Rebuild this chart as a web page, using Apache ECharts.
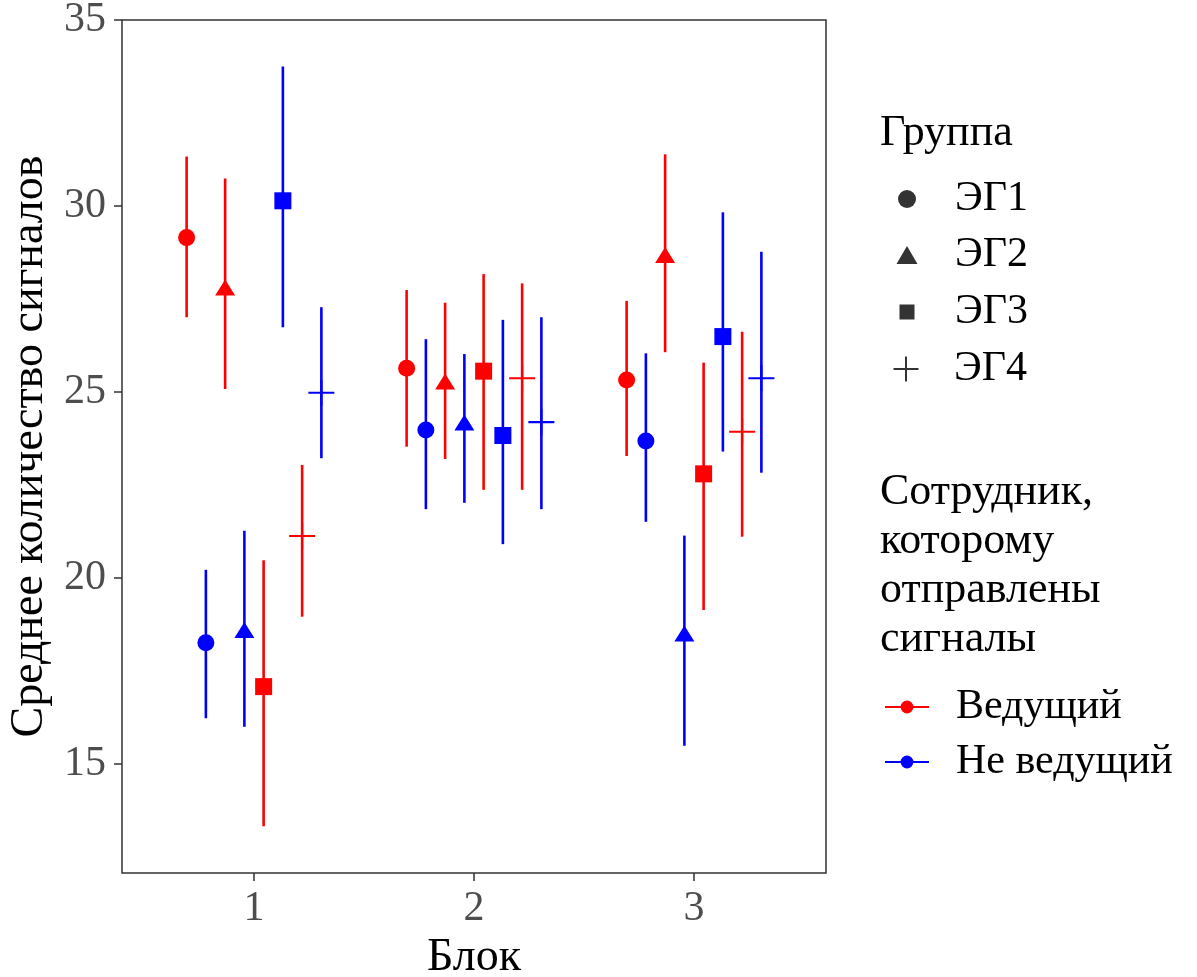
<!DOCTYPE html>
<html>
<head>
<meta charset="utf-8">
<script src="https://cdn.jsdelivr.net/npm/echarts@6/dist/echarts.min.js"></script>
<style>
html, body { margin: 0; padding: 0; background: #fff; }
#chart { width: 1197px; height: 977px; }
</style>
</head>
<body>
<div id="chart"></div>
<script>
var blocks = [1, 2, 3];
var groups = ['ЭГ1', 'ЭГ2', 'ЭГ3', 'ЭГ4'];
var employees = ['Ведущий', 'Не ведущий'];
var xTicks = [1, 2, 3];
var yTicks = [15, 20, 25, 30, 35];

// rows = groups, columns = blocks
var leadMean = [[29.15, 25.64, 25.32], [27.81, 25.28, 28.68], [17.08, 25.56, 22.80], [21.13, 25.37, 23.93]];
var leadLow  = [[27.01, 23.53, 23.28], [25.08, 23.20, 26.07], [13.33, 22.37, 19.14], [18.96, 22.37, 21.11]];
var leadHigh = [[31.33, 27.74, 27.45], [30.74, 27.40, 31.39], [20.48, 28.17, 25.79], [23.04, 27.92, 26.62]];

var otherMean = [[18.26, 23.98, 23.68], [18.60, 24.18, 18.51], [30.14, 23.83, 26.49], [24.98, 24.19, 25.37]];
var otherLow  = [[16.23, 21.85, 21.51], [16.00, 22.02, 15.49], [26.74, 20.91, 23.40], [23.22, 21.85, 22.83]];
var otherHigh = [[20.22, 26.42, 26.04], [21.27, 26.02, 21.14], [33.75, 26.94, 29.83], [27.28, 27.01, 28.77]];

var font = '"Liberation Serif", "Times New Roman", serif';
var colors = ['#FF0000', '#0000FF'];
var plusPath = 'path://M0,9.2H20V10.8H0Z M9.2,0H10.8V20H9.2Z';
var shapes = ['circle', 'triangle', 'rect', plusPath];
var shapeSizes = [17, [20, 16], 17, 26];
var dodge = 0.0875; // 0.7 / 8

var means = [leadMean, otherMean];
var lows = [leadLow, otherLow];
var highs = [leadHigh, otherHigh];

var series = [];
groups.forEach(function (g, gi) {
    employees.forEach(function (e, ei) {
        var offset = (gi * 2 + ei - 3.5) * dodge;
        var barData = [], pointData = [];
        blocks.forEach(function (b, bi) {
            barData.push([b + offset, lows[ei][gi][bi], highs[ei][gi][bi]]);
            pointData.push([b + offset, means[ei][gi][bi]]);
        });
        series.push({
            type: 'custom',
            silent: true,
            data: barData,
            encode: { x: 0, y: [1, 2] },
            renderItem: function (params, api) {
                var p1 = api.coord([api.value(0), api.value(1)]);
                var p2 = api.coord([api.value(0), api.value(2)]);
                return {
                    type: 'line',
                    shape: { x1: p1[0], y1: p1[1], x2: p2[0], y2: p2[1] },
                    style: { stroke: colors[ei], lineWidth: 2.6 }
                };
            }
        });
        series.push({
            type: 'scatter',
            silent: true,
            data: pointData,
            symbol: shapes[gi],
            symbolSize: shapeSizes[gi],
            itemStyle: { color: colors[ei], opacity: 1 },
            z: 3
        });
    });
});

// legend-only series
groups.forEach(function (g, gi) {
    series.push({ name: g, type: 'scatter', data: [], symbol: shapes[gi], symbolKeepAspect: false,
        itemStyle: { color: '#000' } });
});
employees.forEach(function (e, ei) {
    series.push({ name: e, type: 'line', data: [], symbol: 'circle', symbolSize: 12,
        itemStyle: { color: colors[ei] }, lineStyle: { color: colors[ei], width: 2 } });
});

// one legend per shape so every key keeps its own size
var keySizes = [[18, 18], [21, 18], [15, 15], [27, 25]];
var keyTops = [178, 234, 291, 348];
var legends = [];
groups.forEach(function (g, gi) {
    var w = keySizes[gi][0], h = keySizes[gi][1];
    var left = 907 - w / 2;
    legends.push({
        data: [g], orient: 'vertical', left: left, top: keyTops[gi], padding: 0,
        itemWidth: w, itemHeight: h, selectedMode: false,
        textStyle: { fontFamily: font, fontSize: 42, color: '#000', padding: [0, 0, 0, 955 - (left + w + 5)] }
    });
});
legends.push({
    data: employees, orient: 'vertical', left: 884, top: 686, padding: 0, itemWidth: 44, itemHeight: 16, itemGap: 13,
    selectedMode: false,
    textStyle: { fontFamily: font, fontSize: 42, color: '#000', padding: [0, 0, 0, 22] }
});

var option = {
    backgroundColor: '#fff',
    animation: false,
    grid: { left: 122, right: 371, top: 20, bottom: 104, containLabel: false, outerBoundsMode: 'none',
        show: true, borderColor: '#333', borderWidth: 1.5 },
    xAxis: {
        type: 'value', min: 0.4, max: 3.6,
        name: 'Блок', nameLocation: 'middle', nameGap: 62,
        nameTextStyle: { fontFamily: font, fontSize: 46, color: '#000' },
        axisLine: { show: false },
        splitLine: { show: false },
        axisTick: { show: true, length: 8, lineStyle: { color: '#333', width: 1.5 }, customValues: xTicks },
        axisLabel: { customValues: xTicks, fontFamily: font, fontSize: 42, color: '#4D4D4D', margin: 15 }
    },
    yAxis: {
        type: 'value', min: 12.07, max: 35,
        name: 'Среднее количество сигналов', nameLocation: 'middle', nameGap: 69, nameRotate: 90,
        nameTextStyle: { fontFamily: font, fontSize: 46, color: '#000' },
        axisLine: { show: false },
        splitLine: { show: false },
        axisTick: { show: true, length: 8, lineStyle: { color: '#333', width: 1.5 }, customValues: yTicks },
        axisLabel: { customValues: yTicks, fontFamily: font, fontSize: 42, color: '#4D4D4D', margin: 16 }
    },
    legend: legends,
    graphic: [
        { type: 'text', left: 880, top: 111, style: { text: 'Группа', font: '44px ' + font, fill: '#000' } },
        { type: 'text', left: 880, top: 468, style: { text: 'Сотрудник,\nкоторому\nотправлены\nсигналы',
          font: '44px ' + font, fill: '#000', lineHeight: 49 } }
    ],
    series: series
};

var chart = echarts.init(document.getElementById('chart'));
chart.setOption(option);
</script>
</body>
</html>
